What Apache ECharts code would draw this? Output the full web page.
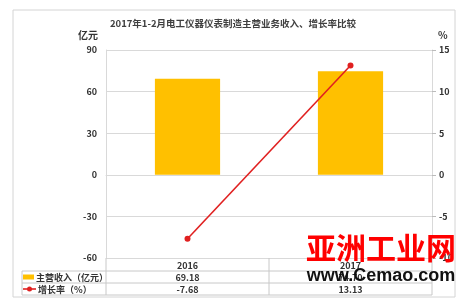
<!DOCTYPE html>
<html><head><meta charset="utf-8">
<script src="https://cdn.jsdelivr.net/npm/echarts@6/dist/echarts.min.js"></script>
<style>html,body{margin:0;padding:0;background:#fff}#c{width:466px;height:307px}</style>
</head><body><div id="c"></div>
<script>
const categories = ['2016', '2017'];
const revenue = [69.18, 74.7];
const growth = [-7.68, 13.13];
const revenueLabels = ['69.18', '74.70'];
const growthLabels = ['-7.68', '13.13'];
const seriesNames = ['主营收入（亿元）', '增长率（%）'];
const titleText = '2017年1-2月电工仪器仪表制造主营业务收入、增长率比较';

const FONT = '"Noto Sans CJK SC", "Noto Sans", sans-serif';
const chart = echarts.init(document.getElementById('c'), null, {renderer: 'canvas'});
const axisLabel = {color: '#333', fontSize: 9, fontWeight: 'bold', fontFamily: FONT};
const gridColor = '#d9d9d9';

chart.setOption({
  animation: false,
  backgroundColor: '#fff',
  title: {text: titleText, left: 'center', top: 14,
    textStyle: {fontSize: 9.5, fontWeight: 'bold', color: '#404040', fontFamily: FONT}},
  grid: {left: 106, right: 34, top: 50, bottom: 49},
  xAxis: {type: 'category', data: categories,
    axisLine: {show: true, lineStyle: {color: gridColor}},
    axisTick: {show: false},
    axisLabel: Object.assign({margin: 3}, axisLabel)},
  yAxis: [
    {type: 'value', min: -60, max: 90, interval: 30, name: '亿元',
     nameLocation: 'end', nameGap: 10,
     nameTextStyle: {color: '#333', fontSize: 10, fontWeight: 'bold', fontFamily: FONT, align: 'right', padding: [0, 8, 0, 0]},
     axisLine: {show: true, lineStyle: {color: gridColor}},
     axisTick: {show: false},
     splitLine: {lineStyle: {color: gridColor}},
     axisLabel: Object.assign({margin: 9}, axisLabel)},
    {type: 'value', min: -10, max: 15, interval: 5, name: '%', position: 'right',
     nameLocation: 'end', nameGap: 10,
     nameTextStyle: {color: '#333', fontSize: 10, fontWeight: 'bold', fontFamily: FONT, align: 'left', padding: [0, 0, 0, 6]},
     axisLine: {show: true, lineStyle: {color: gridColor}},
     axisTick: {show: true, length: 4, lineStyle: {color: '#bbb'}},
     splitLine: {show: false},
     axisLabel: Object.assign({margin: 7}, axisLabel)}
  ],
  series: [
    {name: seriesNames[0], type: 'bar', data: revenue, barWidth: '40%', yAxisIndex: 0,
     itemStyle: {color: '#ffc000'}},
    {name: seriesNames[1], type: 'line', data: growth, yAxisIndex: 1,
     symbol: 'circle', symbolSize: 6,
     lineStyle: {color: '#e02020', width: 1.6},
     itemStyle: {color: '#e02020'}}
  ]
});

// data table under the plot
const x0 = chart.convertToPixel({xAxisIndex: 0}, categories[0]);
const x1 = chart.convertToPixel({xAxisIndex: 0}, categories[1]);
const plotL = 106, plotR = 432, mid = (x0 + x1) / 2;
const tTop = 258, r1 = 271, r2 = 283, r3 = 295, tLeft = 22;
const lc = '#c8c8c8';
const g = [];
function ln(x1_, y1_, x2_, y2_) {
  g.push({type: 'line', shape: {x1: x1_, y1: y1_, x2: x2_, y2: y2_}, style: {stroke: lc, lineWidth: 1}, silent: true});
}
ln(tLeft, r1, plotR, r1);
ln(tLeft, r2, plotR, r2);
ln(tLeft, r3, plotR, r3);
ln(tLeft, r1, tLeft, r3);
ln(plotL, tTop, plotL, r3);
ln(mid, tTop, mid, r3);
ln(plotR, tTop, plotR, r3);
const txt = (t, x, y, align) => g.push({type: 'text', x: x, y: y,
  style: {text: t, fill: '#333', font: 'bold 9px ' + FONT, textAlign: align || 'center', textVerticalAlign: 'middle'}});
[x0, x1].forEach((x, i) => { txt(revenueLabels[i], x, (r1 + r2) / 2 + 0.5); txt(growthLabels[i], x, (r2 + r3) / 2 + 0.5); });
// legend keys
g.push({type: 'rect', shape: {x: 23, y: 274.5, width: 11, height: 5}, style: {fill: '#ffc000'}});
g.push({type: 'line', shape: {x1: 23, y1: 289, x2: 36, y2: 289}, style: {stroke: '#e02020', lineWidth: 1.6}});
g.push({type: 'circle', shape: {cx: 29.5, cy: 289, r: 2.5}, style: {fill: '#e02020'}});
g.push({type: 'text', x: 36, y: (r1 + r2) / 2 + 0.5, style: {text: seriesNames[0], fill: '#333', font: 'bold 9px ' + FONT, textVerticalAlign: 'middle'}});
g.push({type: 'text', x: 38, y: (r2 + r3) / 2 + 0.5, style: {text: seriesNames[1], fill: '#333', font: 'bold 9px ' + FONT, textVerticalAlign: 'middle'}});
// outer frame
g.push({type: 'rect', shape: {x: 13, y: 10, width: 442, height: 287}, style: {fill: 'none', stroke: '#d4d4d4', lineWidth: 1}, silent: true});
// watermark
g.push({type: 'text', x: 381, y: 248, z: 100, style: {text: '亚洲工业网', fill: '#ff0000', font: 'bold 30px ' + FONT, textAlign: 'center', textVerticalAlign: 'middle'}});
g.push({type: 'text', x: 381, y: 276, z: 100, style: {text: 'www.Cemao.com', fill: '#111', font: 'bold 18px "Liberation Sans", Arial, sans-serif', textAlign: 'center', textVerticalAlign: 'middle'}});
chart.setOption({graphic: g});
</script></body></html>
